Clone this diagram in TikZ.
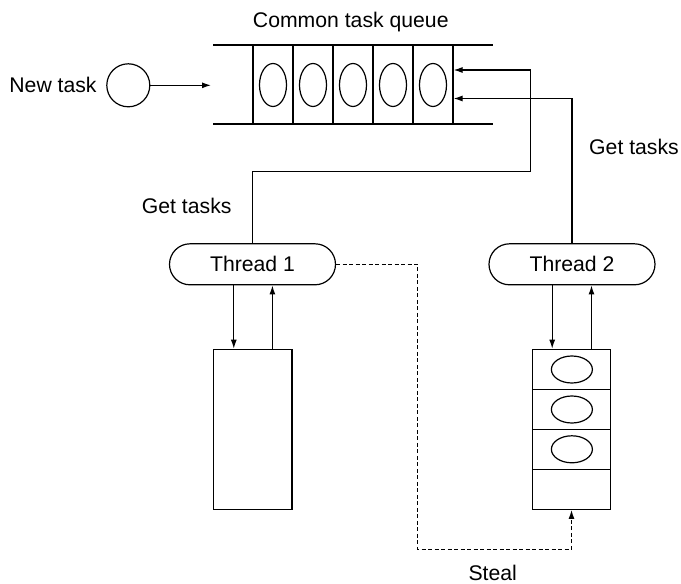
\documentclass[tikz,border=0pt]{standalone}
\usepackage{fontspec}
\setmainfont{Liberation Sans}
\usetikzlibrary{arrows.meta,shapes.misc,shapes.geometric}
\begin{document}
\begin{tikzpicture}[x=1pt,y=-1pt,
  every node/.style={font=\fontsize{21.2}{25}\selectfont, inner sep=0pt},
  ln/.style={line width=1.2pt},
  arr/.style={ln,-{Latex[length=9pt,width=6pt]}},
  dsh/.style={arr,dash pattern=on 4pt off 2.5pt},
  cell/.style={draw,ln,minimum width=40pt,minimum height=79pt},
  qell/.style={draw,ln,ellipse,minimum width=27pt,minimum height=43pt},
  sell/.style={draw,ln,ellipse,minimum width=41pt,minimum height=27pt},
  scell/.style={draw,ln,minimum width=78.5pt,minimum height=40pt},
  thr/.style={draw,ln,rounded rectangle,minimum width=166pt,minimum height=41pt}]
\useasboundingbox (0,0) rectangle (681,584);
% common queue
\node (title) at (350.8,22) {Common task queue};
\draw[ln] (213,45) coordinate (qtl) -- (493,45) coordinate (qtr);
\draw[ln] (213,124) coordinate (qbl) -- (493,124) coordinate (qbr);
\foreach \i/\x in {1/273,2/313,3/353,4/393,5/433}{
  \node[cell] (c\i) at (\x,84.5) {};
  \node[qell] (e\i) at (\x,85) {};
}
% new task
\node (ntl) at (53,85) {New task};
\node[draw,ln,circle,minimum size=43pt] (nt) at (128.3,85.3) {};
\coordinate (qin) at (211,85.3);
\draw[arr] (nt.east) -- (qin);
% threads
\node[thr] (t1) at (252.5,264.3) {Thread 1};
\node[thr] (t2) at (572,264.3) {Thread 2};
\node (gt1) at (186.7,206) {Get tasks};
\node (gt2) at (634,147) {Get tasks};
\draw[arr] (t2.north) |- ([yshift=-14pt]c5.east);
\coordinate (bend1) at (530.6,171.7);
\draw[arr] (t1.north) |- (bend1) |- ([yshift=14.5pt]c5.east);
% thread 1 local queue
\node[draw,ln,minimum width=78.5pt,minimum height=160pt] (b1) at (252.75,429.3) {};
\coordinate (t1d) at (233.8,284.7);
\coordinate (b1u) at (272.4,349.3);
\draw[arr] (t1d) -- (t1d |- b1.north);
\draw[arr] (b1u) -- (b1u |- t1.south);
% thread 2 local queue
\foreach \i/\y in {1/369.3,2/409.3,3/449.3,4/489.3}{
  \node[scell] (s\i) at (571.5,\y) {};
}
\foreach \i/\y in {1/369.5,2/409.5,3/449.3}{
  \node[sell] (f\i) at (571.9,\y) {};
}
\coordinate (t2d) at (552.2,284.7);
\coordinate (b2u) at (591.5,349.3);
\draw[arr] (t2d) -- (t2d |- s1.north);
\draw[arr] (b2u) -- (b2u |- t2.south);
% steal
\coordinate (st1) at (417.5,264.3);
\coordinate (st2) at (417.5,549.3);
\coordinate (st3) at (571.5,549.3);
\draw[dsh] (t1.east) -- (st1) -- (st2) -- (st3) -- (s4.south);
\node (steal) at (492.7,573) {Steal};
\end{tikzpicture}
\end{document}
